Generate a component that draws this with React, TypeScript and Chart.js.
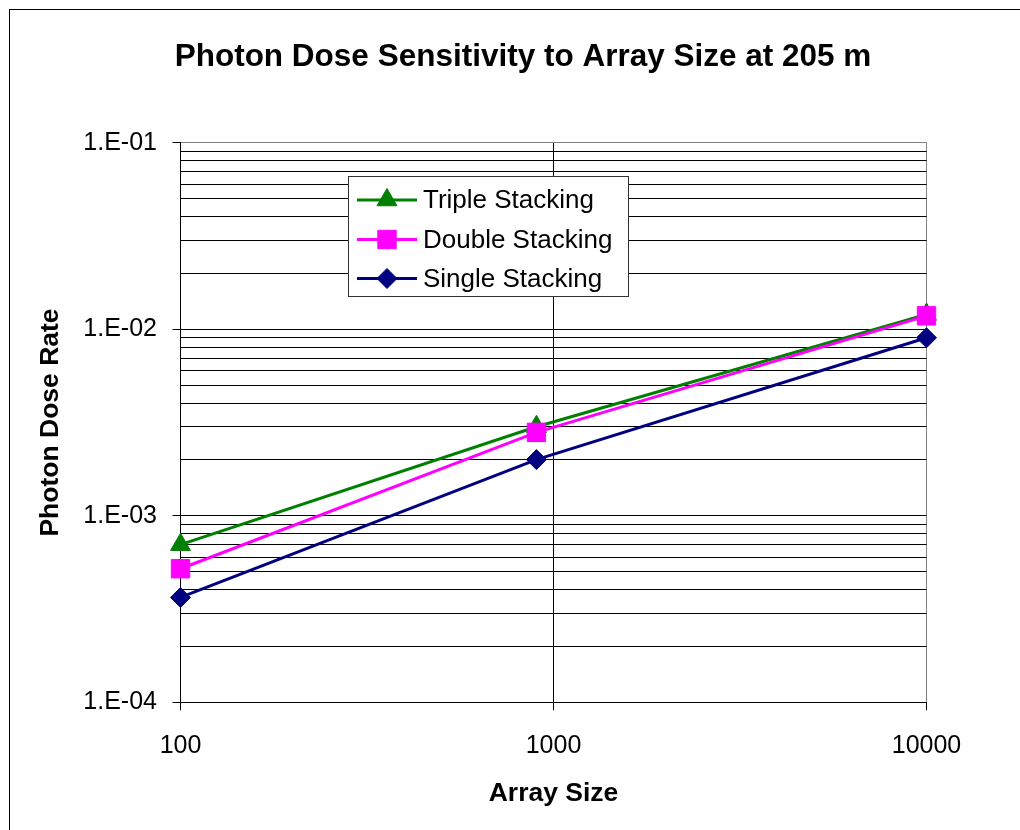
import React, { useEffect, useRef } from 'react';
import { Chart, registerables } from 'chart.js';

Chart.register(...registerables);

// ---- data ----
const arraySizes = [100, 900, 10000];
const tripleStacking = [7.0e-4, 3.0e-3, 1.2e-2];
const doubleStacking = [5.2e-4, 2.8e-3, 1.18e-2];
const singleStacking = [3.65e-4, 2.0e-3, 9.0e-3];

const seriesNames = ['Triple Stacking', 'Double Stacking', 'Single Stacking'];
const seriesColors = ['#008000', '#FF00FF', '#000080'];
const seriesMarkers = ['triangle', 'rect', 'rectRot'];
const seriesMarkerRadius = [11.5, 13, 10];

const xTickValues = [100, 1000, 10000];
const xTickLabels = ['100', '1000', '10000'];
const yMajorValues = [1e-4, 1e-3, 1e-2, 1e-1];
const yTickLabels = ['1.E-04', '1.E-03', '1.E-02', '1.E-01'];
const yMinorMultipliers = [2, 3, 4, 5, 6, 7, 8, 9];

const titleText = 'Photon Dose Sensitivity to Array Size at 205 m';
const xTitle = 'Array Size';
const yTitle = 'Photon Dose Rate';

const FONT = '"Liberation Sans", Arial, sans-serif';

function buildYTicks() {
  const out: { value: number; major: boolean }[] = [];
  for (let i = 0; i < yMajorValues.length - 1; i++) {
    out.push({ value: yMajorValues[i], major: true });
    yMinorMultipliers.forEach((m) => out.push({ value: m * yMajorValues[i], major: false }));
  }
  out.push({ value: yMajorValues[yMajorValues.length - 1], major: true });
  return out;
}

function majorIndex(v: number) {
  return yMajorValues.findIndex((m) => Math.abs(v - m) / m < 1e-6);
}

function drawMarker(ctx: CanvasRenderingContext2D, style: string, x: number, y: number, r: number) {
  ctx.beginPath();
  if (style === 'triangle') {
    ctx.moveTo(x, y - r);
    ctx.lineTo(x + r * Math.sin((2 * Math.PI) / 3), y - r * Math.cos((2 * Math.PI) / 3));
    ctx.lineTo(x - r * Math.sin((2 * Math.PI) / 3), y - r * Math.cos((2 * Math.PI) / 3));
  } else if (style === 'rect') {
    const s = Math.SQRT1_2 * r;
    ctx.rect(x - s, y - s, 2 * s, 2 * s);
  } else {
    ctx.moveTo(x, y - r);
    ctx.lineTo(x + r, y);
    ctx.lineTo(x, y + r);
    ctx.lineTo(x - r, y);
  }
  ctx.closePath();
  ctx.fill();
  ctx.stroke();
}

// centre the title block where the original places it
const titlePlacement = {
  id: 'titlePlacement',
  afterLayout(chart: any) {
    const t = chart.titleBlock;
    if (t) {
      t.left = 0;
      t.right = 1026;
      t.width = 1026;
    }
  },
};

const insideLegend = {
  id: 'insideLegend',
  afterDraw(chart: any) {
    const ctx: CanvasRenderingContext2D = chart.ctx;
    const bx = 338.5, by = 166.5, bw = 280, bh = 120;
    ctx.save();
    ctx.fillStyle = '#ffffff';
    ctx.fillRect(bx, by, bw, bh);
    ctx.strokeStyle = '#333333';
    ctx.lineWidth = 1;
    ctx.strokeRect(bx, by, bw, bh);
    const rowY = [190, 229.5, 268.5];
    chart.data.datasets.forEach((ds: any, i: number) => {
      const y = rowY[i];
      ctx.strokeStyle = ds.borderColor;
      ctx.fillStyle = ds.borderColor;
      ctx.lineWidth = 3;
      ctx.beginPath();
      ctx.moveTo(347, y);
      ctx.lineTo(407, y);
      ctx.stroke();
      ctx.lineWidth = 1;
      drawMarker(ctx, ds.pointStyle, 377, y, ds.pointRadius);
      ctx.fillStyle = '#000';
      ctx.font = `26px ${FONT}`;
      ctx.textBaseline = 'middle';
      ctx.textAlign = 'left';
      ctx.fillText(ds.label, 413, y + 1);
    });
    ctx.restore();
  },
};

export default function App() {
  const ref = useRef<HTMLCanvasElement | null>(null);

  useEffect(() => {
    if (!ref.current) return;
    const seriesValues = [tripleStacking, doubleStacking, singleStacking];
    const datasets = seriesNames.map((name, i) => ({
      label: name,
      data: arraySizes.map((x, j) => ({ x, y: seriesValues[i][j] })),
      borderColor: seriesColors[i],
      backgroundColor: seriesColors[i],
      pointBackgroundColor: seriesColors[i],
      pointBorderColor: seriesColors[i],
      pointStyle: seriesMarkers[i],
      pointRadius: seriesMarkerRadius[i],
      pointBorderWidth: 1,
      borderWidth: 3,
      tension: 0,
      clip: false as any,
      order: 3 - i,
    }));

    const chart = new Chart(ref.current, {
      type: 'line',
      data: { datasets },
      plugins: [titlePlacement, insideLegend],
      options: {
        animation: false,
        responsive: false,
        layout: { padding: { left: 0, top: 0, right: 93.5, bottom: 0 } },
        font: { family: FONT },
        plugins: {
          legend: { display: false },
          tooltip: { enabled: false },
          title: {
            display: true,
            text: titleText,
            color: '#000',
            font: { family: FONT, size: 31.5, weight: 'bold' },
            padding: { top: 28.6, bottom: 66.3 },
          },
        },
        scales: {
          x: {
            type: 'logarithmic',
            position: 'bottom',
            min: 100,
            max: 10000,
            afterBuildTicks: (s: any) => {
              s.ticks = xTickValues.map((v) => ({ value: v }));
            },
            afterFit: (s: any) => {
              s.height = 127.7;
            },
            ticks: {
              autoSkip: false,
              maxRotation: 0,
              minRotation: 0,
              padding: 21,
              color: '#000',
              font: { family: FONT, size: 25 },
              callback: (v: any) => {
                const i = xTickValues.indexOf(Number(v));
                return i >= 0 ? xTickLabels[i] : '';
              },
            },
            grid: {
              color: (c: any) => (c.tick && c.tick.value === 10000 ? '#808080' : '#000'),
              lineWidth: 1,
              tickLength: 8,
              tickColor: '#000',
            },
            border: { color: '#000', width: 1 },
            title: {
              display: true,
              text: xTitle,
              color: '#000',
              font: { family: FONT, size: 26.5, weight: 'bold' },
              padding: { top: 0, bottom: 20 },
            },
          },
          y: {
            type: 'logarithmic',
            min: 1e-4,
            max: 1e-1,
            afterBuildTicks: (s: any) => {
              s.ticks = buildYTicks();
            },
            afterFit: (s: any) => {
              s.width = 170.5;
            },
            ticks: {
              autoSkip: false,
              padding: 15.5,
              color: '#000',
              font: { family: FONT, size: 25 },
              callback: (v: any) => {
                const i = majorIndex(Number(v));
                return i >= 0 ? yTickLabels[i] : '';
              },
            },
            grid: {
              color: (c: any) => (c.tick && majorIndex(c.tick.value) === 3 ? '#808080' : '#000'),
              lineWidth: 1,
              tickLength: 8,
              tickColor: (c: any) => (c.tick && majorIndex(c.tick.value) >= 0 ? '#000' : 'rgba(0,0,0,0)'),
            },
            border: { color: '#000', width: 1 },
            title: {
              display: true,
              text: yTitle,
              color: '#000',
              font: { family: FONT, size: 26.5, weight: 'bold' },
              padding: { top: 25, bottom: 0 },
            },
          },
        },
      } as any,
    });
    return () => chart.destroy();
  }, []);

  return (
    <div
      style={{
        position: 'absolute',
        left: 9,
        top: 9,
        width: 1011,
        height: 821,
        boxSizing: 'border-box',
        borderLeft: '1px solid #000',
        borderTop: '1px solid #000',
        background: '#fff',
      }}
    >
      <canvas ref={ref} width={1010} height={820} style={{ display: 'block' }} />
    </div>
  );
}
